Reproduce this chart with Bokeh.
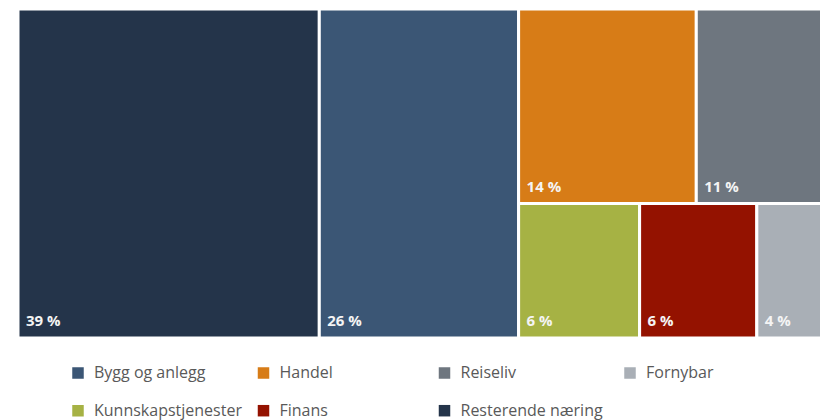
from bokeh.plotting import figure
from bokeh.models import Range1d, ColumnDataSource
from bokeh.embed import file_html
from bokeh.resources import INLINE
from bokeh.core.properties import value

# ---------------- data ----------------
categories = ["Resterende næring", "Bygg og anlegg", "Handel", "Reiseliv",
              "Kunnskapstjenester", "Finans", "Fornybar"]
shares = [39.0, 25.8, 13.6, 11.0, 6.4, 6.2, 4.4]          # percent (read from tile areas)
colors = ["#24344a", "#3b5675", "#d77c17", "#6e767f",
          "#a6b244", "#941200", "#a9afb6"]
# treemap structure: columns -> rows -> tiles (indices into categories)
tree_columns = [[[0]], [[1]], [[2, 3], [4, 5, 6]]]
legend_order = ["Bygg og anlegg", "Handel", "Reiseliv", "Fornybar",
                "Kunnskapstjenester", "Finans", "Resterende næring"]

# ---------------- layout constants (picture pixels) ----------------
FIG_W, FIG_H = 820, 420
TREE_X0, TREE_Y0 = 17.5, 8.5
TREE_W, TREE_H = 822.0, 329.0
LEG_COL_X = [77.5, 263.0, 444.0, 629.5]
LEG_ROW_Y = [372.5, 410.2]
LEG_NCOLS = 4

# ---------------- treemap layout ----------------
total = sum(shares)
L, R, T, B, C, LAB = [], [], [], [], [], []
x = TREE_X0
for col in tree_columns:
    col_sum = sum(shares[i] for row in col for i in row)
    cw = TREE_W * col_sum / total
    y = TREE_Y0
    for row in col:
        row_sum = sum(shares[i] for i in row)
        rh = TREE_H * row_sum / col_sum
        xx = x
        for i in row:
            tw = cw * shares[i] / row_sum
            L.append(xx); R.append(xx + tw); T.append(y); B.append(y + rh)
            C.append(colors[i]); LAB.append(f"{round(shares[i])} %")
            xx += tw
        y += rh
    x += cw

src = ColumnDataSource(dict(left=L, right=R, top=T, bottom=B, color=C, label=LAB,
                            lx=[l + 8.0 for l in L], ly=[b - 18.0 for b in B]))

p = figure(width=FIG_W, height=FIG_H,
           x_range=Range1d(0, FIG_W),
           y_range=Range1d(FIG_H, 0),
           x_axis_type=None, y_axis_type=None,
           output_backend="svg", toolbar_location=None, min_border=0)
p.grid.visible = False
p.outline_line_color = None
p.background_fill_color = "white"
p.border_fill_color = "white"

p.quad(left="left", right="right", top="top", bottom="bottom", source=src,
       fill_color="color", line_color="white", line_width=3)
p.text(x="lx", y="ly", text="label", source=src,
       text_font=value("Open Sans"), text_font_style="bold", text_font_size="15px",
       text_color="#f4f4f4", text_align="left", text_baseline="alphabetic")

# ---------------- legend ----------------
lx, ly, lc, lt = [], [], [], []
for k, name in enumerate(legend_order):
    r, c = divmod(k, LEG_NCOLS)
    lx.append(LEG_COL_X[c]); ly.append(LEG_ROW_Y[r])
    lc.append(colors[categories.index(name)]); lt.append(name)
lsrc = ColumnDataSource(dict(x=lx, y=ly, color=lc, text=lt,
                             tx=[v + 16.0 for v in lx], ty=[v - 0.8 for v in ly]))
p.scatter(x="x", y="y", source=lsrc, marker="square", size=11.5,
          fill_color="color", line_color=None)
p.text(x="tx", y="ty", text="text", source=lsrc,
       text_font=value("Open Sans"), text_font_size="16px", text_color="#595959",
       text_align="left", text_baseline="alphabetic")

open("out.html", "w").write(file_html(p, INLINE))
